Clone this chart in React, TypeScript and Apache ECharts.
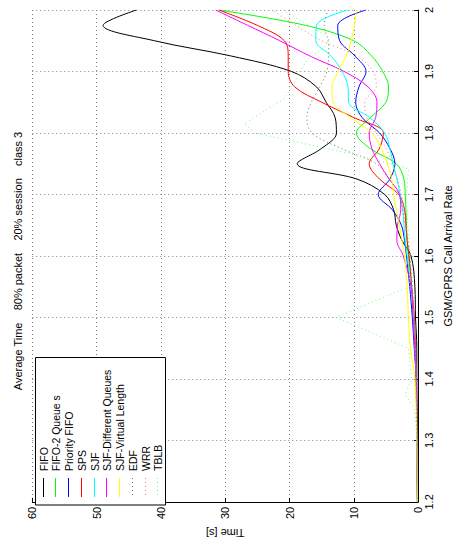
import React, { useEffect, useRef } from "react";
import * as echarts from "echarts";

// GSM/GPRS call arrival rate sample points (shared by most series)
const rates = [1.2, 1.3, 1.4, 1.45, 1.5, 1.55, 1.6, 1.625, 1.65, 1.675, 1.7, 1.725, 1.75, 1.775, 1.8, 1.825, 1.85, 1.875, 1.9, 1.925, 1.95, 1.975, 2.0];

// Average time [s] per series at the rates above
const fifo = [0.1, 0.1, 0.2, 0.2, 0.4, 0.5, 1.1, 2.5, 3.4, 3.8, 5.2, 9.5, 18.8, 15.0, 12.7, 12.9, 14.3, 15.8, 19.7, 29, 41, 49, 43.8];
const fifo2 = [0.1, 0.2, 0.3, 0.5, 0.7, 1.0, 1.5, 1.7, 1.8, 1.9, 2.0, 2.2, 3.4, 7.5, 9.6, 7.4, 5.0, 4.6, 5.5, 7.2, 10, 17.5, 31];
const priorityFifo = [0.1, 0.2, 0.3, 0.6, 0.9, 1.3, 1.8, 2.1, 2.6, 4.0, 6.2, 4.4, 3.6, 4.4, 6.0, 8.7, 9.7, 9.2, 8.1, 9.8, 12.2, 12.5, 8.1];
const sps = [0.1, 0.2, 0.3, 0.4, 0.6, 1.0, 1.4, 1.7, 1.9, 2.1, 3.0, 6.0, 7.6, 6.0, 5.4, 10, 15, 19.2, 20.2, 20.2, 20.8, 25, 31];
const sjf = [0.1, 0.2, 0.3, 0.5, 0.7, 1.1, 1.7, 2.0, 2.2, 2.4, 2.8, 3.3, 3.9, 4.4, 5.2, 7.5, 10.8, 10.9, 11.8, 13.5, 15.9, 15.8, 10.9];
const sjfDq = [0.1, 0.2, 0.3, 0.5, 0.8, 1.1, 2.3, 3.3, 3.2, 2.7, 2.9, 4.5, 6.0, 7.2, 7.6, 6.6, 6.4, 7.8, 11.5, 16.8, 21.5, 26.5, 31.5];
const sjfVl = [0.1, 0.2, 0.5, 1.2, 1.5, 1.7, 2.1, 2.5, 2.9, 3.4, 3.8, 4.1, 4.8, 5.7, 7.2, 10.5, 13.2, 13.4, 12.4, 11.2, 10.4, 9.9, 9.6];
const edf = [0.1, 0.2, 0.3, 0.4, 0.6, 0.9, 1.3, 1.6, 2.0, 2.4, 3.0, 4.5, 6.5, 12.0, 16.5, 17.3, 16.6, 15.3, 14.2, 13.9, 14.0, 14.6, 14.0];
const wrr = [0.1, 0.2, 0.3, 0.4, 0.6, 0.9, 1.3, 1.6, 1.9, 2.2, 2.6, 3.2, 4.0, 5.0, 6.5, 8.0, 8.3, 6.5, 7.0, 9.5, 15, 19, 22.7];

// TBLB has its own sample points
const tblbRates = [1.2, 1.3, 1.35, 1.375, 1.4, 1.45, 1.5, 1.55, 1.6, 1.65, 1.7, 1.742, 1.76, 1.775, 1.8, 1.815, 1.835, 1.855, 1.875, 1.9, 1.92, 1.94, 1.955, 2.0];
const tblb = [0.1, 0.2, 0.5, 2.0, 1.0, 1.5, 12.8, 1.4, 1.2, 1.6, 1.8, 1.5, 8.0, 14.3, 25.3, 27, 24, 20.9, 19.6, 18.4, 17.2, 14.5, 13.8, 21];

const seriesNames = ["FIFO", "FIFO-2 Queue s", "Priority FIFO", "SPS", "SJF", "SJF-Different Queues", "SJF-Virtual Length", "EDF", "WRR", "TBLB"];
const seriesTimes = [fifo, fifo2, priorityFifo, sps, sjf, sjfDq, sjfVl, edf, wrr, tblb];
const seriesRates = [rates, rates, rates, rates, rates, rates, rates, rates, rates, tblbRates];

const timeTicks = [0, 10, 20, 30, 40, 50, 60];
const rateTicks = [1.2, 2.0];

const titleText = "Average Time    80% packet    20% session    class 3";
const xName = "Time [s]";
const yName = "GSM/GPRS Call Arrival Rate";

// styles
const colors = ["#000000", "#00ff00", "#0000ff", "#ff0000", "#00ffff", "#ff00ff", "#ffff00", "#707070", "#ff7070", "#70ff70"];
const dotted = [false, false, false, false, false, false, false, true, true, true];
const FONT = '"Liberation Sans", Arial, Helvetica, sans-serif';

export default function App() {
  const ref = useRef<HTMLDivElement>(null);
  useEffect(() => {
    document.body.style.margin = "0";
    const chart = echarts.init(ref.current!, null, { renderer: "svg" });
    const gridLeft = 32.3;
    const gridRight = 461 - 422.5;
    const gridTop = 10;
    const gridBottom = 543 - 506.8;

    const series = seriesNames.map((name, i) => ({
      type: "line",
      name,
      data: seriesTimes[i].map((t, j) => [t, seriesRates[i][j]]),
      smooth: dotted[i] && i === 9 ? false : 0.35,
      symbol: "none",
      showSymbol: false,
      clip: true,
      lineStyle: { color: colors[i], width: 1, type: dotted[i] ? [1, 3] : "solid" },
      itemStyle: { color: colors[i] },
      z: 2 + i,
    }));

    const legendX0 = 42.7;
    const legendDx = 12.74;
    const legendGraphics: any[] = [
      {
        type: "rect",
        z: 100,
        shape: { x: 35.5, y: 357.5, width: 130, height: 147.5 },
        style: { fill: "#fff", stroke: "#000", lineWidth: 1 },
      },
    ];
    seriesNames.forEach((name, i) => {
      const x = Math.round(legendX0 + i * legendDx) + 0.5;
      legendGraphics.push({
        type: "line",
        z: 101,
        shape: { x1: x, y1: 478, x2: x, y2: 497 },
        style: { stroke: colors[i], lineWidth: 1, lineDash: dotted[i] ? [1, 3] : null },
      });
      legendGraphics.push({
        type: "text",
        z: 101,
        x: x,
        y: 471,
        rotation: Math.PI / 2,
        style: { text: name, fill: "#000", font: `10.5px ${FONT}`, align: "left", verticalAlign: "middle" },
      });
    });

    chart.setOption({
      animation: false,
      textStyle: { fontFamily: FONT },
      grid: { left: gridLeft, right: gridRight, top: gridTop, bottom: gridBottom, containLabel: false },
      xAxis: {
        type: "value",
        min: timeTicks[0],
        max: timeTicks[timeTicks.length - 1],
        interval: 10,
        inverse: true,
        position: "bottom",
        axisLine: { show: true, onZero: false, lineStyle: { color: "#000", width: 1 } },
        axisTick: { show: true, inside: true, length: 4, lineStyle: { color: "#000" } },
        axisLabel: { rotate: 90, fontSize: 11, color: "#000", margin: 5, fontFamily: FONT },
        splitLine: { show: true, lineStyle: { color: "#808080", width: 1, type: [1, 3] } },
        name: xName,
        nameLocation: "middle",
        nameGap: 25,
        nameRotate: 180,
        nameTextStyle: { fontSize: 11, color: "#000", fontFamily: FONT },
      },
      yAxis: {
        type: "value",
        min: rateTicks[0],
        max: rateTicks[1],
        interval: 0.1,
        position: "right",
        axisLine: { show: true, onZero: false, lineStyle: { color: "#000", width: 1 } },
        axisTick: { show: true, inside: true, length: 4, lineStyle: { color: "#000" } },
        axisLabel: {
          rotate: 90,
          fontSize: 11,
          color: "#000",
          margin: 5,
          fontFamily: FONT,
          formatter: (v: number) => String(Math.round(v * 10) / 10),
        },
        splitLine: { show: true, lineStyle: { color: "#808080", width: 1, type: [1, 3] } },
        name: yName,
        nameLocation: "middle",
        nameGap: 22,
        nameRotate: 90,
        nameTextStyle: { fontSize: 11, color: "#000", fontFamily: FONT },
      },
      graphic: [
        {
          type: "text",
          x: 18,
          y: 261,
          rotation: Math.PI / 2,
          style: { text: titleText, fill: "#000", font: `11px ${FONT}`, align: "center", verticalAlign: "middle" },
        },
        ...legendGraphics,
      ],
      series,
    });
    return () => chart.dispose();
  }, []);
  return <div ref={ref} style={{ width: 461, height: 543 }} />;
}
